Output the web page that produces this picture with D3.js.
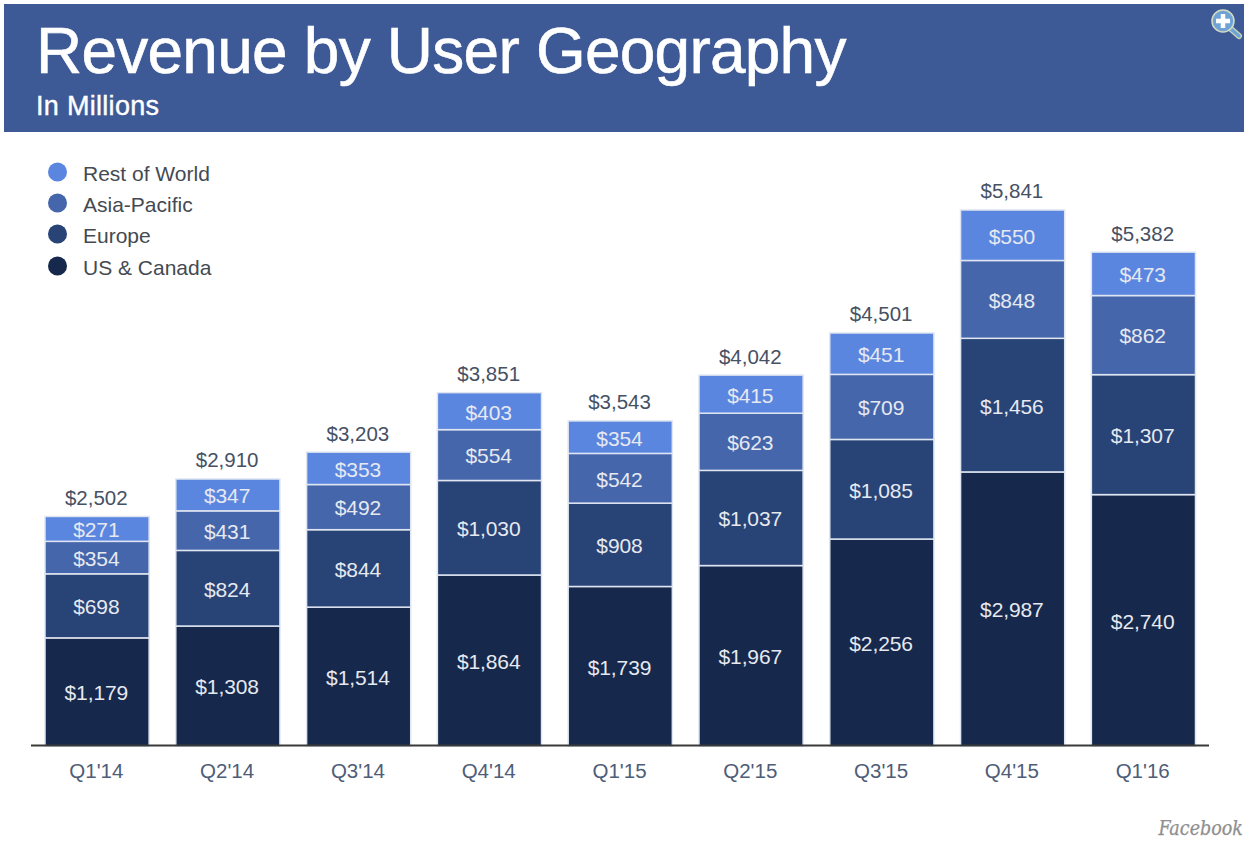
<!DOCTYPE html>
<html>
<head>
    <meta charset="UTF-8">
    <title>Revenue by User Geography</title>
    <script src="https://d3js.org/d3.v7.min.js"></script>
    <style type="text/css">
        html, body { margin: 0; padding: 0; background: #fff; }
        svg { display: block; }
        text { font-family: "Liberation Sans", Arial, sans-serif; }
    </style>
</head>
<body>
    <svg id="chart"></svg>

    <script>
        const quarters = ["Q1'14", "Q2'14", "Q3'14", "Q4'14", "Q1'15", "Q2'15", "Q3'15", "Q4'15", "Q1'16"];
        const usCanada = [1179, 1308, 1514, 1864, 1739, 1967, 2256, 2987, 2740];
        const europe = [698, 824, 844, 1030, 908, 1037, 1085, 1456, 1307];
        const asiaPacific = [354, 431, 492, 554, 542, 623, 709, 848, 862];
        const restOfWorld = [271, 347, 353, 403, 354, 415, 451, 550, 473];
        const totals = [2502, 2910, 3203, 3851, 3543, 4042, 4501, 5841, 5382];

        const seriesNames = ["US & Canada", "Europe", "Asia-Pacific", "Rest of World"];
        const seriesValues = [usCanada, europe, asiaPacific, restOfWorld];
        const seriesColors = ["#16284b", "#284375", "#4566ab", "#5b86e0"];

        const width = 1256;
        const height = 850;
        const baseline = 745.5;

        const svg = d3.select("#chart").attr("width", width).attr("height", height);

        // header band
        svg.append("rect")
            .attr("x", 4).attr("y", 4)
            .attr("width", 1240).attr("height", 128)
            .attr("fill", "#3d5a96");
        svg.append("text")
            .attr("x", 36).attr("y", 73)
            .attr("font-size", 64)
            .attr("letter-spacing", -0.77)
            .attr("fill", "#fff")
            .attr("stroke", "#fff")
            .attr("stroke-width", 0.6)
            .text("Revenue by User Geography");
        svg.append("text")
            .attr("x", 36).attr("y", 115)
            .attr("font-size", 27)
            .attr("letter-spacing", 0.3)
            .attr("fill", "#fff")
            .attr("stroke", "#fff")
            .attr("stroke-width", 0.4)
            .text("In Millions");

        // zoom icon, top right
        const icon = svg.append("g").attr("transform", "translate(1223,21)");
        icon.append("line")
            .attr("x1", 8).attr("y1", 8).attr("x2", 16).attr("y2", 15)
            .attr("stroke", "#c9d6b8").attr("stroke-width", 6).attr("stroke-linecap", "round");
        icon.append("line")
            .attr("x1", 8).attr("y1", 8).attr("x2", 16).attr("y2", 15)
            .attr("stroke", "#6fa3d6").attr("stroke-width", 3.5).attr("stroke-linecap", "round");
        icon.append("circle")
            .attr("r", 11)
            .attr("fill", "#6fa3d6").attr("stroke", "#d5dcc0").attr("stroke-width", 1.5);
        icon.append("path")
            .attr("d", "M-7,0H7M0,-7V7")
            .attr("stroke", "#fff").attr("stroke-width", 4.5);

        const x = d3.scaleBand()
            .domain(quarters)
            .range([45, 1196])
            .paddingInner(0.2)
            .paddingOuter(0);
        const y = d3.scaleLinear()
            .domain([0, d3.max(totals)])
            .range([baseline + 0.6, 210]);

        // stack the four series for each quarter
        const table = quarters.map((q, i) => {
            const row = { quarter: q };
            seriesNames.forEach((name, s) => { row[name] = seriesValues[s][i]; });
            return row;
        });
        const stacked = d3.stack().keys(seriesNames)(table);

        const fmt = d3.format("$,");
        const labelX = q => x(q) + x.bandwidth() / 2 - 1;

        const layers = svg.append("g").selectAll("g")
            .data(stacked)
            .join("g")
            .attr("fill", (d, i) => seriesColors[i]);

        layers.selectAll("rect")
            .data(d => d)
            .join("rect")
            .attr("x", d => x(d.data.quarter))
            .attr("y", d => y(d[1]))
            .attr("width", x.bandwidth() - 0.5)
            .attr("height", d => y(d[0]) - y(d[1]))
            .attr("stroke", "#dfe5f1")
            .attr("stroke-width", 1.5);

        layers.selectAll("text")
            .data(d => d)
            .join("text")
            .attr("x", d => labelX(d.data.quarter))
            .attr("y", d => (y(d[0]) + y(d[1])) / 2 + 8.4)
            .attr("text-anchor", "middle")
            .attr("font-size", 21)
            .attr("letter-spacing", -0.1)
            .attr("fill", "#e6e9f0")
            .text(d => fmt(d[1] - d[0]));

        // totals above the bars
        svg.append("g").selectAll("text")
            .data(totals)
            .join("text")
            .attr("x", (d, i) => labelX(quarters[i]))
            .attr("y", d => y(d) - 11.6)
            .attr("text-anchor", "middle")
            .attr("font-size", 20.5)
            .attr("fill", "#465164")
            .text(d => fmt(d));

        // baseline and quarter labels
        const axis = svg.append("g")
            .attr("transform", `translate(-1,${baseline})`)
            .call(d3.axisBottom(x).tickSize(0).tickPadding(18));
        axis.select(".domain").remove();
        axis.selectAll("text")
            .attr("font-size", 20.5)
            .attr("fill", "#4e5d78")
            .style("font-family", "\"Liberation Sans\", Arial, sans-serif");
        svg.append("line")
            .attr("x1", 31).attr("x2", 1209)
            .attr("y1", baseline).attr("y2", baseline)
            .attr("stroke", "#3a3a3a").attr("stroke-width", 2);

        // legend, top entry first
        const legend = svg.append("g").selectAll("g")
            .data(seriesNames.slice().reverse())
            .join("g")
            .attr("transform", (d, i) => `translate(0,${[172, 203, 234, 266][i]})`);
        legend.append("circle")
            .attr("cx", 57.5)
            .attr("r", 9.5)
            .attr("fill", d => seriesColors[seriesNames.indexOf(d)]);
        legend.append("text")
            .attr("x", 83)
            .attr("y", 9)
            .attr("font-size", 21)
            .attr("fill", "#444a52")
            .text(d => d);

        svg.append("text")
            .attr("x", 1243).attr("y", 835)
            .attr("text-anchor", "end")
            .attr("font-size", 19.5)
            .attr("font-style", "italic")
            .attr("fill", "#8f8f8f")
            .attr("stroke", "#8f8f8f")
            .attr("stroke-width", 0.25)
            .style("font-family", "\"DejaVu Serif Condensed\", \"DejaVu Serif\", serif")
            .text("Facebook");
    </script>
</body>
</html>
